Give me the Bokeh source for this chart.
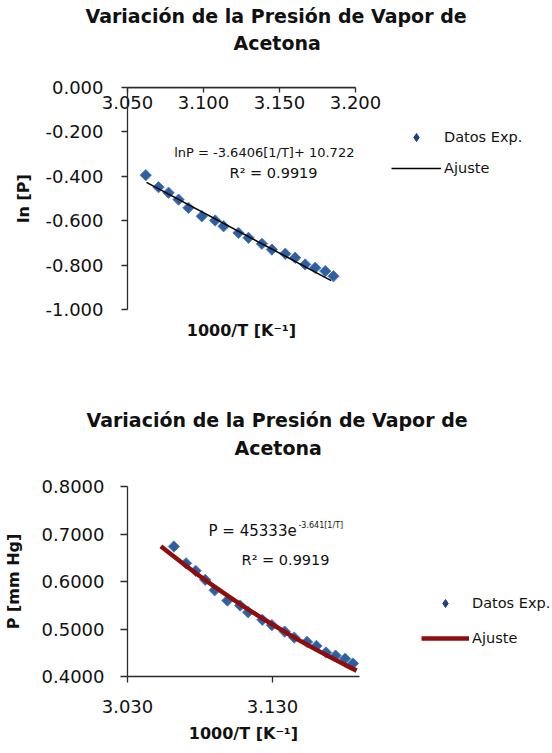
from math import pi
from bokeh.plotting import figure
from bokeh.models import (Range1d, LinearAxis, FixedTicker, NumeralTickFormatter,
                          Title, Label, Legend, LegendItem, Span)
from bokeh.layouts import column
from bokeh.embed import file_html
from bokeh.resources import INLINE

# ---------------- data ----------------
inv_T = [3.0620, 3.0704, 3.0770, 3.0836, 3.0901, 3.0989, 3.1077, 3.1132, 3.1230,
         3.1296, 3.1384, 3.1450, 3.1538, 3.1603, 3.1669, 3.1735, 3.1801, 3.1855]
ln_P = [-0.395, -0.449, -0.474, -0.505, -0.542, -0.580, -0.599, -0.625, -0.655,
        -0.677, -0.704, -0.730, -0.749, -0.767, -0.797, -0.812, -0.827, -0.850]
P_mmHg = [0.6737, 0.6383, 0.6225, 0.6035, 0.5816, 0.5599, 0.5494, 0.5353, 0.5194,
          0.5081, 0.4946, 0.4819, 0.4728, 0.4644, 0.4507, 0.4440, 0.4374, 0.4274]

lin_fit_x = [3.0625, 3.1840]
lin_fit_y = [-0.4274, -0.8697]

exp_fit_x = [3.053, 3.06, 3.07, 3.08, 3.09, 3.10, 3.11, 3.12, 3.13, 3.14,
             3.15, 3.16, 3.17, 3.18, 3.188]
exp_fit_y = [0.6742, 0.6572, 0.6337, 0.6110, 0.5892, 0.5681, 0.5478, 0.5282,
             0.5094, 0.4912, 0.4735, 0.4566, 0.4403, 0.4245, 0.4124]

top_x_ticks = [3.05, 3.10, 3.15, 3.20]
top_y_ticks = [-1.0, -0.8, -0.6, -0.4, -0.2, 0.0]
bot_x_ticks = [3.03, 3.13]
bot_y_ticks = [0.4, 0.5, 0.6, 0.7, 0.8]

title_l1 = "Variación de la Presión de Vapor de"
title_l2 = "Acetona"
xlabel = "1000/T [K⁻¹]"

FONT = "DejaVu Sans"
AX = "#2b2b2b"
PT_FILL = "#2F5F9F"
PT_LINE = "#5081BF"
LEG_MK = "#1F3F7F"


def style_axis(ax, size="18px"):
    ax.axis_line_color = AX
    ax.axis_line_width = 1.3
    ax.major_tick_line_color = AX
    ax.major_tick_line_width = 1.3
    ax.minor_tick_line_color = None
    ax.major_label_text_font = FONT
    ax.major_label_text_font_size = size
    ax.major_label_text_color = "#111111"
    ax.axis_label_text_font = FONT
    ax.axis_label_text_font_style = "bold"
    ax.axis_label_text_font_size = "16px"
    ax.axis_label_text_color = "#111111"


def add_titles(p, spacer, s2, s1, off2, off1):
    # spacer between frame and the two title lines
    p.add_layout(Title(text=" ", text_font=FONT, text_font_size="10px",
                       standoff=spacer), "above")
    p.add_layout(Title(text=title_l2, align="left", offset=off2, standoff=s2,
                       text_font=FONT, text_font_size="19px", text_font_style="bold",
                       text_color="#111111"), "above")
    p.add_layout(Title(text=title_l1, align="left", offset=off1, standoff=s1,
                       text_font=FONT, text_font_size="19px", text_font_style="bold",
                       text_color="#111111"), "above")


def make_legend(r_marker, r_line, loc, spacing, glyph_w):
    return Legend(items=[LegendItem(label="Datos Exp.", renderers=[r_marker]),
                         LegendItem(label="Ajuste", renderers=[r_line])],
                  location=loc, glyph_width=glyph_w, glyph_height=20, label_height=20,
                  label_standoff=3, spacing=spacing, padding=0, margin=0,
                  border_line_color=None, background_fill_alpha=0,
                  inactive_fill_alpha=0,
                  label_text_font=FONT, label_text_font_size="14.5px",
                  label_text_color="#111111")


# ---------------- top chart ----------------
p1 = figure(frame_width=228, frame_height=222, x_range=Range1d(3.05, 3.20),
            y_range=Range1d(-1.0, 0.0), x_axis_location="above",
            output_backend="svg", toolbar_location=None, title=None,
            min_border_left=116, min_border_right=0, min_border_top=0,
            min_border_bottom=89)
p1.outline_line_color = None
p1.xgrid.visible = False
p1.ygrid.visible = False

xa = p1.xaxis[0]
style_axis(xa)
xa.ticker = FixedTicker(ticks=top_x_ticks)
xa.formatter = NumeralTickFormatter(format="0.000")
xa.major_tick_in = 5
xa.major_tick_out = 0
xa.major_label_standoff = -21

p1.add_layout(Span(location=0.0, dimension="width", line_color=AX, line_width=1.3))

ya = p1.yaxis[0]
style_axis(ya)
ya.ticker = FixedTicker(ticks=top_y_ticks)
ya.formatter = NumeralTickFormatter(format="0.000")
ya.major_tick_in = 0
ya.major_tick_out = 6
ya.major_label_standoff = 18
ya.axis_label = "ln [P]"
ya.axis_label_standoff = 9

xb = LinearAxis(ticker=FixedTicker(ticks=[]), axis_label=xlabel)
style_axis(xb)
xb.axis_line_color = None
xb.major_tick_line_color = None
xb.major_label_text_font_size = "0px"
xb.axis_label_standoff = 11
p1.add_layout(xb, "below")

add_titles(p1, 21, 0, 5, 106, -42)

p1.scatter(inv_T, ln_P, marker="square", angle=pi / 4, size=8,
           fill_color=PT_FILL, line_color=PT_LINE, line_width=1)
fit1 = p1.line(lin_fit_x, lin_fit_y, line_color="#000000", line_width=1.5)
mk1 = p1.scatter(inv_T[:1], ln_P[:1], marker="diamond", size=9,
                 fill_color=LEG_MK, line_color=LEG_MK, visible=False)

p1.add_layout(Label(x=3.1993, y=-0.2928, text="lnP = -3.6406[1/T]+ 10.722",
                    text_align="right", text_baseline="middle", text_font=FONT,
                    text_font_size="13px", text_color="#111111"))
p1.add_layout(Label(x=3.1461, y=-0.383, text="R² = 0.9919",
                    text_align="center", text_baseline="middle", text_font=FONT,
                    text_font_size="14.5px", text_color="#111111"))

p1.add_layout(make_legend(mk1, fit1, (36, 131), 11, 50), "right")

# ---------------- bottom chart ----------------
p2 = figure(frame_width=232, frame_height=190, x_range=Range1d(3.03, 3.19),
            y_range=Range1d(0.4, 0.8), output_backend="svg",
            toolbar_location=None, title=None,
            min_border_left=121, min_border_right=0, min_border_top=88,
            min_border_bottom=0)
p2.outline_line_color = None
p2.xgrid.visible = False
p2.ygrid.visible = False

xa2 = p2.xaxis[0]
style_axis(xa2)
xa2.ticker = FixedTicker(ticks=bot_x_ticks)
xa2.formatter = NumeralTickFormatter(format="0.000")
xa2.major_tick_in = 0
xa2.major_tick_out = 6
xa2.major_label_standoff = 17
xa2.axis_label = xlabel
xa2.axis_label_standoff = 8

ya2 = p2.yaxis[0]
style_axis(ya2)
ya2.ticker = FixedTicker(ticks=bot_y_ticks)
ya2.formatter = NumeralTickFormatter(format="0.0000")
ya2.major_tick_in = 0
ya2.major_tick_out = 7
ya2.major_label_standoff = 16
ya2.axis_label = "P [mm Hg]"
ya2.axis_label_standoff = 16

add_titles(p2, 11, 8, 0, 107, -41)

p2.scatter(inv_T, P_mmHg, marker="square", angle=pi / 4, size=8,
           fill_color=PT_FILL, line_color=PT_LINE, line_width=1)
fit2 = p2.line(exp_fit_x, exp_fit_y, line_color="#8E0D0D", line_width=4.5)
mk2 = p2.scatter(inv_T[:1], P_mmHg[:1], marker="diamond", size=9,
                 fill_color=LEG_MK, line_color=LEG_MK, visible=False)

p2.add_layout(Label(x=3.0859, y=0.7053, text="P = 45333e",
                    text_align="left", text_baseline="middle", text_font=FONT,
                    text_font_size="15px", text_color="#111111"))
p2.add_layout(Label(x=3.1479, y=0.7185, text="-3.641[1/T]",
                    text_align="left", text_baseline="middle", text_font=FONT,
                    text_font_size="8px", text_color="#111111"))
p2.add_layout(Label(x=3.139, y=0.6463, text="R² = 0.9919",
                    text_align="center", text_baseline="middle", text_font=FONT,
                    text_font_size="14.5px", text_color="#111111"))

p2.add_layout(make_legend(mk2, fit2, (62, 28), 15, 48), "right")

layout = column(p1, p2, spacing=0)
open("out.html", "w").write(file_html(layout, INLINE))
